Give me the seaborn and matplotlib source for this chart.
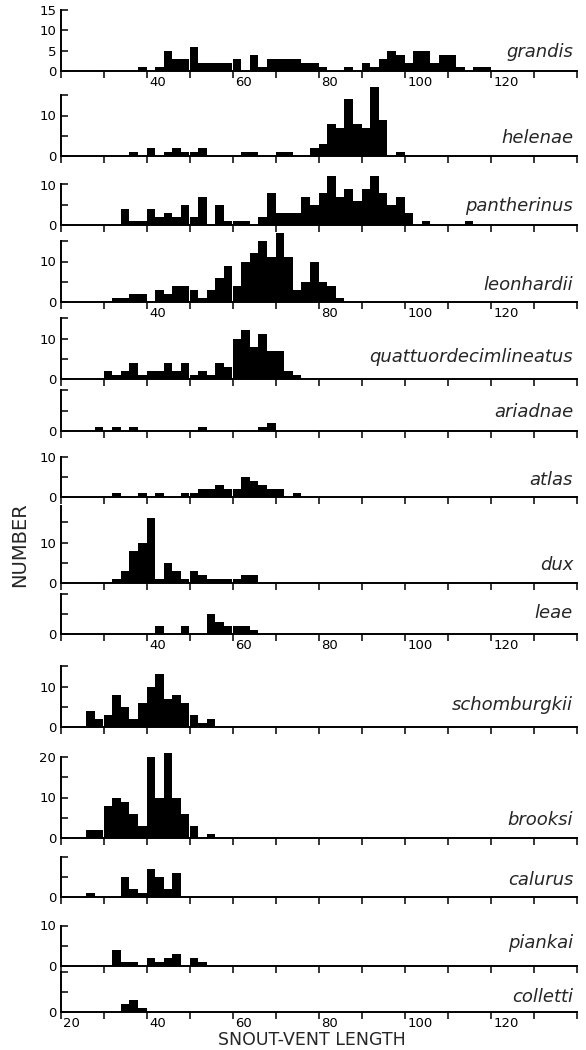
import numpy as np
import pandas as pd
import matplotlib
matplotlib.use("Agg")
import matplotlib.pyplot as plt
import matplotlib.transforms as mtrans
import seaborn as sns

# ---------------- data (lower edge of 2-mm bins, counts) ----------------
species = ["grandis", "helenae", "pantherinus", "leonhardii", "quattuordecimlineatus",
           "ariadnae", "atlas", "dux", "leae", "schomburgkii", "brooksi",
           "calurus", "piankai", "colletti"]

grandis_bins = [38, 42, 44, 46, 48, 50, 52, 54, 56, 58, 60, 64, 66, 68, 70, 72, 74, 76, 78, 80,
                86, 90, 92, 94, 96, 98, 100, 102, 104, 106, 108, 110, 112, 116, 118]
grandis_n = [1, 1, 5, 3, 3, 6, 2, 2, 2, 2, 3, 4, 1, 3, 3, 3, 3, 2, 2, 1,
             1, 2, 1, 3, 5, 4, 2, 5, 5, 2, 4, 4, 1, 1, 1]

helenae_bins = [36, 40, 44, 46, 48, 50, 52, 62, 64, 70, 72, 78, 80, 82, 84, 86, 88, 90, 92, 94, 98]
helenae_n = [1, 2, 1, 2, 1, 1, 2, 1, 1, 1, 1, 2, 3, 8, 7, 14, 8, 7, 17, 9, 1]

pantherinus_bins = [34, 36, 38, 40, 42, 44, 46, 48, 50, 52, 56, 58, 60, 62, 66, 68, 70, 72, 74,
                    76, 78, 80, 82, 84, 86, 88, 90, 92, 94, 96, 98, 100, 104, 114]
pantherinus_n = [4, 1, 1, 4, 2, 3, 2, 5, 2, 7, 5, 1, 1, 1, 2, 8, 3, 3, 3,
                 7, 5, 8, 12, 7, 9, 6, 9, 12, 8, 5, 7, 3, 1, 1]

leonhardii_bins = [32, 34, 36, 38, 42, 44, 46, 48, 50, 52, 54, 56, 58, 60, 62, 64, 66, 68, 70,
                   72, 74, 76, 78, 80, 82, 84]
leonhardii_n = [1, 1, 2, 2, 3, 2, 4, 4, 3, 1, 3, 6, 9, 4, 10, 12, 15, 11, 17,
                11, 3, 5, 10, 5, 4, 1]

quattuor_bins = [30, 32, 34, 36, 38, 40, 42, 44, 46, 48, 50, 52, 54, 56, 58, 60, 62, 64, 66,
                 68, 70, 72, 74]
quattuor_n = [2, 1, 2, 4, 1, 2, 2, 4, 2, 4, 1, 2, 1, 4, 3, 10, 12, 8, 11, 7, 7, 2, 1]

ariadnae_bins = [28, 32, 36, 52, 66, 68]
ariadnae_n = [1, 1, 1, 1, 1, 2]

atlas_bins = [32, 38, 42, 48, 50, 52, 54, 56, 58, 60, 62, 64, 66, 68, 70, 74]
atlas_n = [1, 1, 1, 1, 1, 2, 2, 3, 2, 2, 5, 4, 3, 2, 2, 1]

dux_bins = [32, 34, 36, 38, 40, 42, 44, 46, 48, 50, 52, 54, 56, 58, 60, 62, 64]
dux_n = [1, 3, 8, 10, 16, 1, 5, 3, 1, 3, 2, 1, 1, 1, 1, 2, 2]

leae_bins = [42, 48, 54, 56, 58, 60, 62, 64]
leae_n = [2, 2, 5, 3, 2, 2, 2, 1]

schomburgkii_bins = [26, 28, 30, 32, 34, 36, 38, 40, 42, 44, 46, 48, 50, 52, 54]
schomburgkii_n = [4, 2, 3, 8, 5, 2, 6, 10, 13, 7, 8, 6, 3, 1, 2]

brooksi_bins = [26, 28, 30, 32, 34, 36, 38, 40, 42, 44, 46, 48, 50, 54]
brooksi_n = [2, 2, 8, 10, 9, 6, 3, 20, 10, 21, 10, 6, 3, 1]

calurus_bins = [26, 34, 36, 38, 40, 42, 44, 46]
calurus_n = [1, 5, 2, 1, 7, 5, 2, 6]

piankai_bins = [32, 34, 36, 40, 42, 44, 46, 50, 52]
piankai_n = [4, 1, 1, 2, 1, 2, 3, 2, 1]

colletti_bins = [34, 36, 38]
colletti_n = [2, 3, 1]

all_bins = [grandis_bins, helenae_bins, pantherinus_bins, leonhardii_bins, quattuor_bins,
            ariadnae_bins, atlas_bins, dux_bins, leae_bins, schomburgkii_bins, brooksi_bins,
            calurus_bins, piankai_bins, colletti_bins]
all_n = [grandis_n, helenae_n, pantherinus_n, leonhardii_n, quattuor_n,
         ariadnae_n, atlas_n, dux_n, leae_n, schomburgkii_n, brooksi_n,
         calurus_n, piankai_n, colletti_n]

# labelled y ticks per panel
y_labels = [[0, 5, 10, 15], [0, 10], [0, 10], [0, 10], [0, 10], [0], [0, 10], [0, 10],
            [0], [0, 10], [0, 10, 20], [0], [0, 10], [0]]
# labelled x ticks per panel (None = no labels)
x_labels = [[40, 60, 80, 100, 120], None, None, [40, 80, 100, 120], None, None, None, None,
            [40, 60, 80, 100, 120], None, None, None, None, [20, 40, 60, 80, 100, 120]]
x_ticks = [20, 30, 40, 50, 60, 70, 80, 90, 100, 110, 120, 130, 140]

# ---------------- layout ----------------
W, H = 586, 1050
PX = 4.05                      # pixels per count
X0, X1 = 60.5, 576.5           # pixel span of x axis (20..140)
baselines = [71, 156, 225, 302, 379, 431, 497, 583, 634, 727, 838, 897, 966, 1012]
spine_tops = [15, 15, 10, 15, 15, 10, 10, 19, 10, 15, 20, 10, 10, 10]
label_rise = [19, 18, 19, 17, 22, 19, 17, 18, 21, 22, 18, 17, 23, 15]

sns.set_style("white")
plt.rcParams["font.family"] = ["DejaVu Sans"]

fig = plt.figure(figsize=(W / 100, H / 100), dpi=100)
shift = mtrans.ScaledTranslation(3 / 100, 0, fig.dpi_scale_trans)

for i, name in enumerate(species):
    df = pd.DataFrame({"svl": np.asarray(all_bins[i], dtype=float) + 1.0,
                       "n": np.asarray(all_n[i], dtype=float)})
    top = spine_tops[i]
    ymax = max(top, df["n"].max()) + 0.4
    hpx = ymax * PX
    ax = fig.add_axes([X0 / W, 1 - baselines[i] / H, (X1 - X0) / W, hpx / H])
    sns.histplot(data=df, x="svl", weights="n", binwidth=2, binrange=(20, 140), ax=ax,
                 color="black", alpha=1, linewidth=0, stat="count", element="bars",
                 fill=True)
    ax.set_xlim(20, 140)
    ax.set_ylim(0, ymax)
    ax.set_xlabel("")
    ax.set_ylabel("")
    ax.patch.set_alpha(0)
    for s in ["top", "right"]:
        ax.spines[s].set_visible(False)
    for s in ["left", "bottom"]:
        ax.spines[s].set_linewidth(1.4)
        ax.spines[s].set_color("black")
    ax.spines["left"].set_bounds(0, top)

    yt = list(range(0, top + 1, 5))
    ax.set_yticks(yt)
    ax.set_yticklabels([str(v) if v in y_labels[i] else "" for v in yt])
    ax.tick_params(axis="y", direction="in", length=5, width=1.1, pad=3,
                   labelsize=9.5, colors="black", left=True)

    ax.set_xticks(x_ticks)
    xl = x_labels[i]
    ax.set_xticklabels([str(v) if (xl is not None and v in xl) else "" for v in x_ticks])
    ax.tick_params(axis="x", direction="out", length=5, width=1.1, pad=-1.5,
                   labelsize=9.5, colors="black", bottom=True)
    for lab in ax.get_xticklabels():
        lab.set_ha("left")
        lab.set_transform(lab.get_transform() + shift)

    ax.annotate(name, xy=(139.2, 0), xycoords="data",
                xytext=(0, label_rise[i] * 0.72), textcoords="offset points",
                ha="right", va="center", fontstyle="italic", fontsize=13,
                annotation_clip=False)

fig.text(20 / W, 1 - 545 / H, "NUMBER", rotation=90, ha="center", va="center", fontsize=14)
fig.text(312 / W, 1 - 1045 / H, "SNOUT-VENT LENGTH", ha="center", va="baseline",
         fontsize=12.5)

fig.savefig("out.png", dpi=100)
